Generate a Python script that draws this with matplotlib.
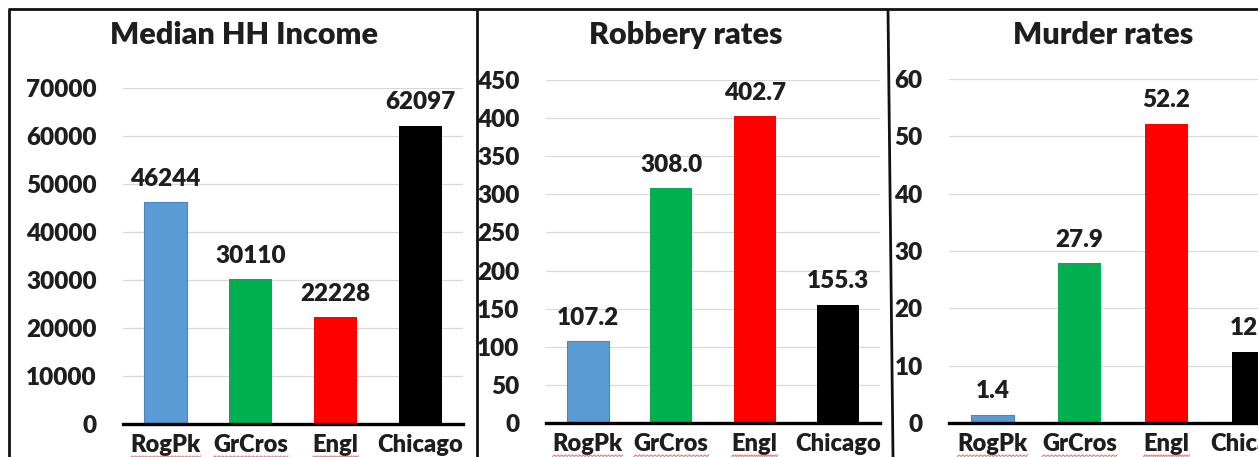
import matplotlib
matplotlib.use('Agg')
import matplotlib.pyplot as plt
from matplotlib.lines import Line2D
import numpy as np

plt.rcParams['font.family'] = ['Lato', 'DejaVu Sans']
plt.rcParams['font.weight'] = 'heavy'

# ── data ──────────────────────────────────────────────────────────────────────
areas       = ['RogPk', 'GrCros', 'Engl', 'Chicago']
bar_colors  = ['#5b9bd5', '#00b050', '#ff0000', '#000000']
income      = [46244, 30110, 22228, 62097]
robbery     = [107.2, 308.0, 402.7, 155.3]
murder      = [1.4, 27.9, 52.2, 12.4]
income_ticks  = [0, 10000, 20000, 30000, 40000, 50000, 60000, 70000]
robbery_ticks = [0, 50, 100, 150, 200, 250, 300, 350, 400, 450]
murder_ticks  = [0, 10, 20, 30, 40, 50, 60]

W, H = 1258, 457
TXT = '#1e1e1e'
fig = plt.figure(figsize=(W / 100, H / 100), dpi=100)
fig.patch.set_facecolor('white')


def px_axes(left, right, top, bottom):
    return fig.add_axes([left / W, 1 - bottom / H, (right - left) / W, (bottom - top) / H])


panels = [
    # title, values, ticks, fmt, axes box (px), title centre x
    ('Median HH Income', income,  income_ticks,  '{:.0f}', (123, 463, 88, 424), 244),
    ('Robbery rates',    robbery, robbery_ticks, '{:.1f}', (546, 880, 80, 423), 686),
    ('Murder rates',     murder,  murder_ticks,  '{:.1f}', (949, 1297, 79, 423), 1103),
]

squiggle_labels = []
for title, vals, ticks, fmt, box, tx in panels:
    ax = px_axes(*box)
    x = np.arange(len(areas))
    bars = ax.bar(x, vals, width=0.5, color=bar_colors, zorder=3)
    bars[0].set_edgecolor('#4a86c5')
    bars[0].set_linewidth(0.8)
    ax.bar_label(bars, labels=[fmt.format(v) for v in vals], padding=9,
                 fontsize=17.5, fontweight='heavy', color=TXT)
    ax.set_xlim(-0.5, 3.5)
    ax.set_ylim(ticks[0], ticks[-1])
    ax.set_yticks(ticks)
    ax.set_xticks(x)
    ax.set_xticklabels(areas)
    ax.tick_params(axis='y', length=0, pad=19, labelsize=17.5, labelcolor=TXT)
    ax.tick_params(axis='x', length=0, pad=7, labelsize=17, labelcolor=TXT)
    ax.yaxis.grid(True, color='#d9d9d9', linewidth=0.9, zorder=0)
    ax.set_axisbelow(True)
    for s in ['top', 'right', 'left']:
        ax.spines[s].set_visible(False)
    ax.spines['bottom'].set_linewidth(2.4)
    ax.spines['bottom'].set_zorder(4)
    fig.text(tx / W, 1 - 35 / H, title, ha='center', va='center',
             fontsize=22, fontweight='heavy', color=TXT)
    squiggle_labels += ax.get_xticklabels()[:3]

# red spell-check underlines below the short area names
fig.canvas.draw()
renderer = fig.canvas.get_renderer()
for lab in squiggle_labels:
    bb = lab.get_window_extent(renderer)
    xs = np.linspace(bb.x0, bb.x1, 40)
    ys = np.full_like(xs, bb.y0 - 1.0) + np.where(np.arange(40) % 2, 0.8, -0.8)
    fig.add_artist(Line2D(xs / W, ys / H, color='#e06060', linewidth=0.8, alpha=0.8))

# panel frames
frame_kw = dict(color='#111111', linewidth=2.0, solid_capstyle='butt')
fig.add_artist(Line2D([8 / W, 1], [1 - 9 / H, 1 - 9 / H], **frame_kw))
fig.add_artist(Line2D([8.5 / W, 8.5 / W], [1 - 9 / H, 0], **frame_kw))
fig.add_artist(Line2D([476.5 / W, 476.5 / W], [1 - 9 / H, 0], **frame_kw))
fig.add_artist(Line2D([888 / W, 893 / W], [1 - 9 / H, 0], **frame_kw))

plt.savefig('out.png', dpi=100)
plt.close()
